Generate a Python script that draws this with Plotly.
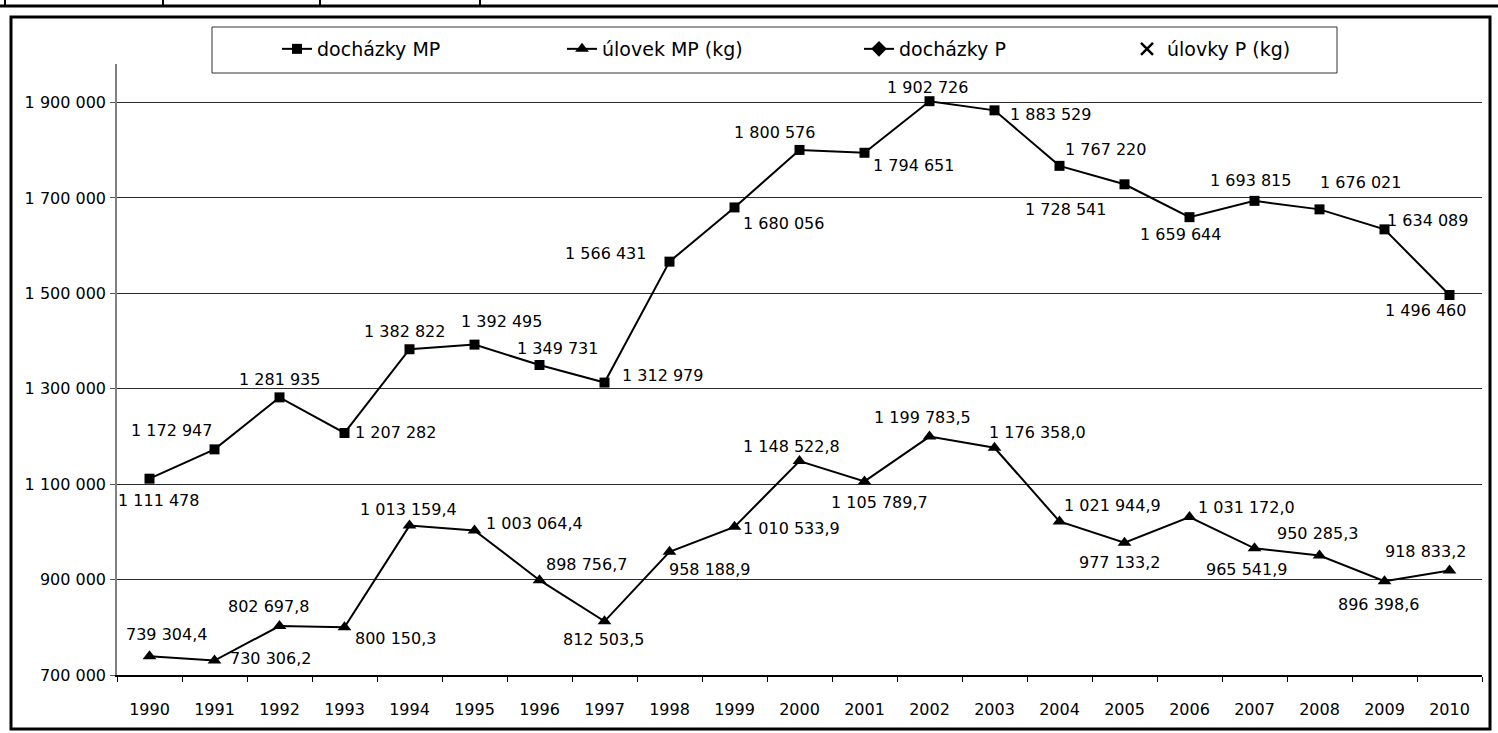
import plotly.graph_objects as go

years = [str(y) for y in range(1990, 2011)]

dochazky_mp = [1111478, 1172947, 1281935, 1207282, 1382822, 1392495, 1349731, 1312979,
               1566431, 1680056, 1800576, 1794651, 1902726, 1883529, 1767220, 1728541,
               1659644, 1693815, 1676021, 1634089, 1496460]

ulovek_mp = [739304.4, 730306.2, 802697.8, 800150.3, 1013159.4, 1003064.4, 898756.7, 812503.5,
             958188.9, 1010533.9, 1148522.8, 1105789.7, 1199783.5, 1176358.0, 1021944.9, 977133.2,
             1031172.0, 965541.9, 950285.3, 896398.6, 918833.2]

y_ticks = [700000, 900000, 1100000, 1300000, 1500000, 1700000, 1900000]

legend_names = ["docházky MP", "úlovek MP (kg)", "docházky P", "úlovky P (kg)"]

# label offsets in pixels (dx right, dy down) relative to each point
mp_dx = [9, -43, 0, 51, -5, 27, 18, 58, -64, 49, -25, 49, -2, 56, 46, -59, -9, -4, 41, 43, -24]
mp_dy = [22, -19, -18, 0, -18, -23, -17, -7, -8, 16, -17, 13, -14, 4, -16, 25, 17, -20, -27, -9, 15]
ul_dx = [17, 56, -11, 51, -1, 60, 47, -1, 40, 57, -8, 15, -7, 43, 53, -5, 57, -8, -2, -6, -24]
ul_dy = [-22, -2, -20, 11, -16, -7, -16, 18, 18, 2, -15, 21, -19, -15, -16, 20, -10, 21, -22, 23, -19]


def fmt_int(v):
    return f"{v:,.0f}".replace(",", " ")


def fmt_dec(v):
    return f"{v:,.1f}".replace(",", " ").replace(".", ",")


W, H = 1498, 733
L, R, T, B = 117, 16, 64, 58
PW, PH = W - L - R, H - T - B
FONT = "DejaVu Sans"


def px(xp):
    return (xp - L) / PW


def py(yp):
    return (H - B - yp) / PH


fig = go.Figure()

fig.add_trace(go.Scatter(
    x=years, y=dochazky_mp, name=legend_names[0], mode="lines+markers",
    line=dict(color="black", width=2),
    marker=dict(symbol="square", size=10, color="black"),
    legend="legend",
))
fig.add_trace(go.Scatter(
    x=years, y=ulovek_mp, name=legend_names[1], mode="lines+markers",
    line=dict(color="black", width=2),
    marker=dict(symbol="triangle-up", size=12, color="black"),
    legend="legend2",
))
fig.add_trace(go.Scatter(
    x=[None], y=[None], name=legend_names[2], mode="lines+markers",
    line=dict(color="black", width=2),
    marker=dict(symbol="diamond", size=12, color="black"),
    legend="legend3",
))
fig.add_trace(go.Scatter(
    x=[None], y=[None], name=legend_names[3], mode="markers",
    marker=dict(symbol="x-thin", size=12, color="black", line=dict(color="black", width=2.5)),
    legend="legend4",
))

annotations = []
for i, (v, dx, dy) in enumerate(zip(dochazky_mp, mp_dx, mp_dy)):
    annotations.append(dict(x=i, y=v, xref="x", yref="y", text=fmt_int(v), showarrow=False,
                            xshift=dx, yshift=-dy, font=dict(family=FONT, size=16, color="black")))
for i, (v, dx, dy) in enumerate(zip(ulovek_mp, ul_dx, ul_dy)):
    annotations.append(dict(x=i, y=v, xref="x", yref="y", text=fmt_dec(v), showarrow=False,
                            xshift=dx, yshift=-dy, font=dict(family=FONT, size=16, color="black")))

shapes = [
    # outer chart frame
    dict(type="rect", xref="paper", yref="paper", x0=px(11), x1=px(1490), y0=py(729), y1=py(17),
         line=dict(color="black", width=3)),
    # legend frame
    dict(type="rect", xref="paper", yref="paper", x0=px(212), x1=px(1337), y0=py(73), y1=py(27),
         line=dict(color="#333333", width=1)),
    # table remnant at top of page
    dict(type="line", xref="paper", yref="paper", x0=px(0), x1=px(1498), y0=py(6), y1=py(6),
         line=dict(color="black", width=3)),
]
for xv in [5, 163, 320, 480]:
    shapes.append(dict(type="line", xref="paper", yref="paper", x0=px(xv), x1=px(xv),
                       y0=py(0), y1=py(6), line=dict(color="black", width=2)))

legend_common = dict(xref="container", yref="container", xanchor="left", yanchor="middle",
                     orientation="h", bgcolor="rgba(0,0,0,0)",
                     font=dict(family=FONT, size=19, color="black"))
ly = 1 - 49 / H
fig.update_layout(
    width=W, height=H,
    margin=dict(l=L, r=R, t=T, b=B, autoexpand=False),
    paper_bgcolor="white", plot_bgcolor="white",
    font=dict(family=FONT, size=16, color="black"),
    showlegend=True,
    legend=dict(x=277 / W, y=ly, **legend_common),
    legend2=dict(x=562 / W, y=ly, **legend_common),
    legend3=dict(x=859 / W, y=ly, **legend_common),
    legend4=dict(x=1127 / W, y=ly, **legend_common),
    annotations=annotations,
    shapes=shapes,
    xaxis=dict(
        type="category", range=[-0.5, 20.5], tickson="boundaries", automargin=False,
        showgrid=False, showline=True, linecolor="black", linewidth=1.5,
        ticks="outside", ticklen=5, tickcolor="black",
        ticklabelstandoff=19,
        tickfont=dict(family=FONT, size=16, color="black"),
    ),
    yaxis=dict(
        range=[700000, 1980700], tickvals=y_ticks, ticktext=[fmt_int(v) for v in y_ticks],
        automargin=False,
        showgrid=True, gridcolor="#2a2a2a", gridwidth=1,
        showline=True, linecolor="#808080", linewidth=1.5,
        ticks="outside", ticklen=5, tickcolor="#555555",
        ticklabelstandoff=1, zeroline=False,
        tickfont=dict(family=FONT, size=16, color="black"),
    ),
)

fig.write_html(
    "out.html",
    config={"displayModeBar": False},
    post_script="document.body.style.margin='0';document.body.style.padding='0';"
                "document.documentElement.style.overflow='hidden';",
)
